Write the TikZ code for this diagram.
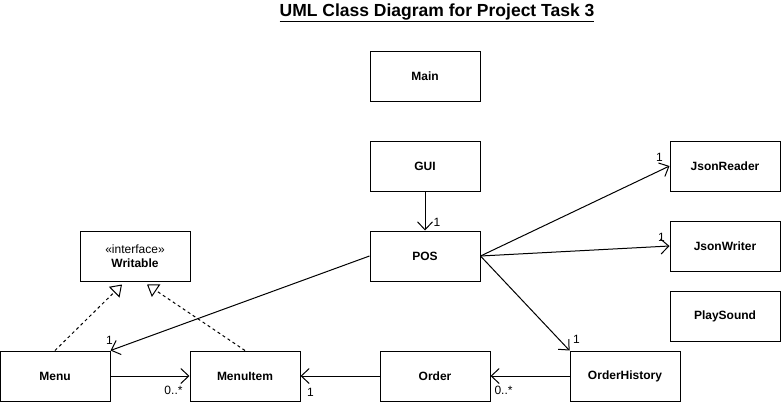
\documentclass[tikz,border=0pt]{standalone}
\usepackage{fontspec}
\setmainfont{Liberation Sans}
\usepackage{tikz}
\usetikzlibrary{arrows.meta,positioning,calc}
\tikzset{
  cls/.style={draw, line width=1pt, minimum width=110pt, minimum height=50pt, inner sep=0pt, font=\fontsize{12}{14}\selectfont\bfseries},
  assoc/.style={-{Straight Barb[length=8pt, width=15pt]}, line width=1pt},
  realize/.style={-{Triangle[open, length=11pt, width=15pt]}, dash pattern=on 3pt off 3pt, line width=1pt},
  mult/.style={inner sep=0pt, font=\fontsize{12}{14}\selectfont},
}

\begin{document}
\begin{tikzpicture}[x=1pt, y=-1pt]
\useasboundingbox (0,0) rectangle (781,402);
% Title
\node[font=\fontsize{17.5}{20}\selectfont\bfseries] (title) at (437,13) {\underline{UML Class Diagram for Project Task 3}};
% Classes
\node[cls] (Main) at (425,76) {Main};
\node[cls] (GUI) at (425,166) {GUI};
\node[cls] (POS) at (425,256) {POS};
\node[cls] (JsonReader) at (725,166) {JsonReader};
\node[cls] (JsonWriter) at (725,246) {JsonWriter};
\node[cls] (PlaySound) at (725,316) {PlaySound};
\node[cls, align=center] (Writable) at (135,256) {{\mdseries\guillemotleft interface\guillemotright}\\Writable};
\node[cls] (Menu) at (55,376) {Menu};
\node[cls] (MenuItem) at (245,376) {MenuItem};
\node[cls] (Order) at (435,376) {Order};
\node[cls] (OrderHistory) at (625,376) {OrderHistory};
% Associations
\draw[assoc] (GUI) -- (POS);
\draw[assoc] (POS.east) -- (JsonReader.west);
\draw[assoc] (POS.east) -- (JsonWriter.west);
\draw[assoc] (POS.east) -- (OrderHistory.north west);
\draw[assoc] (POS.west) -- (Menu.north east);
\draw[assoc] (Menu) -- (MenuItem);
\draw[assoc] (Order) -- (MenuItem);
\draw[assoc] (OrderHistory) -- (Order);
% Realizations
\draw[realize] (Menu.north) -- ([shift={(-13,3)}]Writable.south);
\draw[realize] (MenuItem.north) -- ([shift={(12,3)}]Writable.south);
% Multiplicities
\node[mult] (mPOS) at ([shift={(12,-8)}]POS.north) {1};
\node[mult] (mReader) at ([shift={(-10,-9)}]JsonReader.west) {1};
\node[mult] (mWriter) at ([shift={(-8,-9)}]JsonWriter.west) {1};
\node[mult] (mHistory) at ([shift={(7,-11)}]OrderHistory.north west) {1};
\node[mult] (mMenu) at ([shift={(-1,-10)}]Menu.north east) {1};
\node[mult] (mItems) at ([shift={(-16,14)}]MenuItem.west) {0..*};
\node[mult] (mItem) at ([shift={(10,16)}]MenuItem.east) {1};
\node[mult] (mOrders) at ([shift={(13,14)}]Order.east) {0..*};
\end{tikzpicture}
\end{document}
